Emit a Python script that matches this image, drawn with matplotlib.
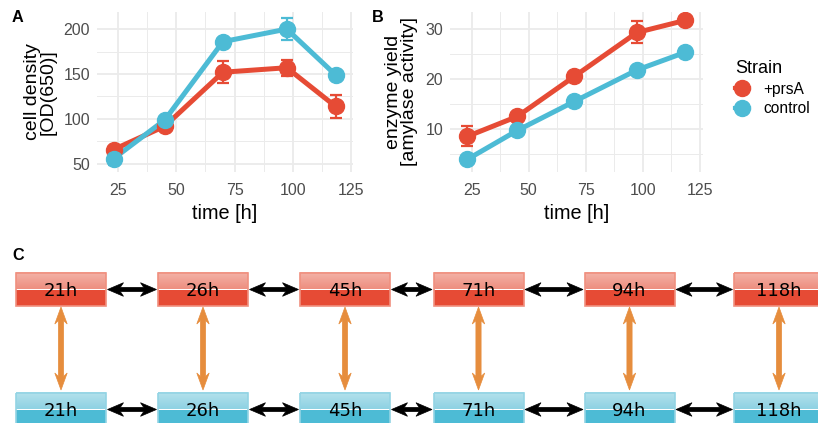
import matplotlib
matplotlib.use("Agg")
import matplotlib.pyplot as plt
from matplotlib.patches import Rectangle, Polygon
from matplotlib.lines import Line2D
from matplotlib.colors import LinearSegmentedColormap
import numpy as np

plt.rcParams["font.family"] = ["Liberation Sans", "DejaVu Sans"]

RED = "#E64B35"
BLUE = "#4DBBD5"
ORANGE = "#E68D3D"
GRID = "#EBEBEB"
TICK = "#4D4D4D"

# measurement times in the two growth plots
time_h = [23, 45, 70, 97.5, 118.5]

density_prsa = [66, 92, 152, 157, 114]
density_prsa_err = [3, 3, 12, 9, 13]
density_ctrl = [56, 99, 186, 200, 149]
density_ctrl_err = [7, 3, 3, 12, 3]

yield_prsa = [8.5, 12.5, 20.5, 29.3, 31.7]
yield_prsa_err = [2.0, 0.5, 0.5, 2.2, 0.4]
yield_ctrl = [3.9, 9.7, 15.5, 21.8, 25.3]
yield_ctrl_err = [0.4, 0.4, 0.4, 0.5, 0.5]

strains = ["+prsA", "control"]
sample_labels = ["21h", "26h", "45h", "71h", "94h", "118h"]


def style_panel(ax, yticks, yminor):
    ax.set_facecolor("white")
    for s in ax.spines.values():
        s.set_visible(False)
    ax.set_xticks([25, 50, 75, 100, 125])
    ax.set_yticks(yticks)
    ax.set_xticks([37.5, 62.5, 87.5, 112.5], minor=True)
    ax.set_yticks(yminor, minor=True)
    ax.grid(True, which="major", color=GRID, lw=1.3)
    ax.grid(True, which="minor", color=GRID, lw=0.7)
    ax.set_axisbelow(True)
    ax.tick_params(which="both", length=0, colors=TICK, labelsize=11.5)
    ax.tick_params(axis="x", pad=8)
    ax.tick_params(axis="y", pad=5)
    ax.set_xlabel("time [h]", fontsize=14.3, labelpad=4)


def draw_series(ax, y, err, color):
    ax.plot(time_h, y, color=color, lw=3.6, zorder=3)
    ax.errorbar(time_h, y, yerr=err, fmt="none", ecolor=color, elinewidth=1.6,
                capsize=4.5, capthick=1.6, zorder=4)
    ax.plot(time_h, y, "o", color=color, ms=11.5, zorder=5)


def double_arrow(ax, p1, p2, color, L, W, t):
    # filled double-headed arrow along the segment p1 -> p2 (pixel units)
    p1, p2 = np.array(p1, float), np.array(p2, float)
    d = (p2 - p1) / np.linalg.norm(p2 - p1)
    n = np.array([-d[1], d[0]])
    a, b = p1 + d * L, p2 - d * L
    an, bn = p1 + d * L * 0.8, p2 - d * L * 0.8
    pts = [p1, a + n * W, an + n * t, bn + n * t, b + n * W, p2,
           b - n * W, bn - n * t, an - n * t, a - n * W]
    ax.add_patch(Polygon(pts, closed=True, facecolor=color, edgecolor=color,
                         lw=0.5, zorder=3))


fig = plt.figure(figsize=(8.18, 4.23), dpi=100)

axA = fig.add_axes([97 / 818, 1 - 172 / 423, 256 / 818, 160 / 423])
draw_series(axA, density_prsa, density_prsa_err, RED)
draw_series(axA, density_ctrl, density_ctrl_err, BLUE)
axA.set_xlim(15.8, 126)
axA.set_ylim(41, 219)
style_panel(axA, [50, 100, 150, 200], [75, 125, 175])
axA.set_ylabel("cell density\n[OD(650)]", fontsize=14, labelpad=5, linespacing=0.92)

axB = fig.add_axes([450 / 818, 1 - 172 / 423, 253 / 818, 160 / 423])
draw_series(axB, yield_prsa, yield_prsa_err, RED)
draw_series(axB, yield_ctrl, yield_ctrl_err, BLUE)
axB.set_xlim(15.5, 126.5)
axB.set_ylim(1.4, 33.4)
style_panel(axB, [10, 20, 30], [5, 15, 25])
axB.set_ylabel("enzyme yield\n[amylase activity]", fontsize=14, labelpad=5, linespacing=0.92)

# legend
handles = [Line2D([], [], color=c, lw=3, marker="o", ms=11.5) for c in (RED, BLUE)]
leg = fig.legend(handles, strains, title="Strain", loc="upper left",
                 bbox_to_anchor=(721 / 818, 1 - 46 / 423), frameon=False,
                 fontsize=11.2, title_fontsize=13, handlelength=0.9,
                 handletextpad=0.9, labelspacing=0.3)
leg._legend_box.align = "left"

fig.text(12 / 818, 1 - 18 / 423, "A", fontsize=11.7, fontweight="bold", va="center")
fig.text(372 / 818, 1 - 18 / 423, "B", fontsize=11.7, fontweight="bold", va="center")
fig.text(12 / 818, 1 - 256 / 423, "C", fontsize=11.7, fontweight="bold", va="center")

# panel C: sample scheme, drawn in pixel coordinates (1 unit = 1 px)
top = 253
axC = fig.add_axes([0, 0, 1, (423 - top) / 423])
axC.set_xlim(0, 818)
axC.set_ylim(423 - top, 0)
axC.axis("off")

centers = [61, 203, 345, 478.5, 629.5, 779]
box_w, box_h = 90, 33
rows = [(289.5 - top, RED, "#F3B2A7", "#EE8F80", "#F0907F"),
        (409.5 - top, BLUE, "#B4E1EC", "#8ED2E3", "#93D4E4")]

for yc, dark, light, mid, edge in rows:
    cmap = LinearSegmentedColormap.from_list("g", [light, mid])
    grad = np.linspace(0, 1, 20).reshape(-1, 1)
    for cx, lab in zip(centers, sample_labels):
        x0, y0 = cx - box_w / 2, yc - box_h / 2
        axC.add_patch(Rectangle((x0, y0 + box_h / 2), box_w, box_h / 2,
                                facecolor=dark, edgecolor="none", zorder=2))
        axC.imshow(grad, cmap=cmap, extent=(x0, x0 + box_w, y0 + box_h / 2, y0),
                   aspect="auto", zorder=2, interpolation="bilinear")
        axC.add_patch(Rectangle((x0, y0), box_w, box_h, facecolor="none",
                                edgecolor=edge, lw=1.2, zorder=3))
        axC.text(cx, yc + 1, lab, ha="center", va="center", fontsize=13,
                 family="DejaVu Sans", color="black", zorder=4)
    for a, b in zip(centers[:-1], centers[1:]):
        double_arrow(axC, (a + box_w / 2 + 1.5, yc), (b - box_w / 2 - 1.5, yc),
                     "black", L=16, W=6.8, t=2.1)

for cx in centers:
    double_arrow(axC, (cx, 307 - top), (cx, 390 - top), ORANGE, L=17, W=6.2, t=2.6)

fig.savefig("out.png", dpi=100)
